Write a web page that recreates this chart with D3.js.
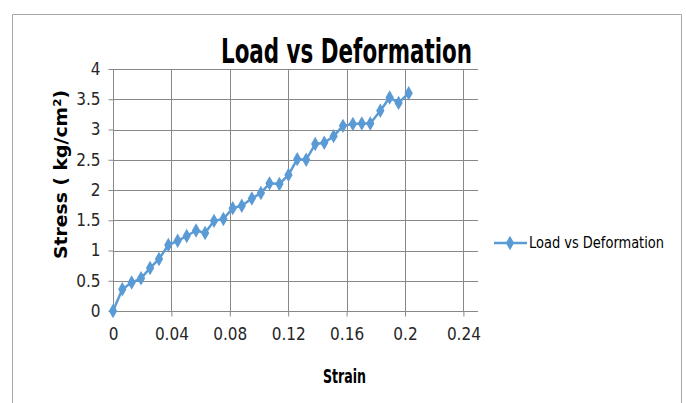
<!DOCTYPE html>
<html><head><meta charset="utf-8">
<script src="https://cdn.jsdelivr.net/npm/d3@7"></script>
<style>html,body{margin:0;padding:0;background:#fff;}svg{display:block;}</style>
</head><body>
<svg id="c" width="686" height="403"></svg>
<script>
const strain = [0, 0.0064, 0.0128, 0.0192, 0.0254, 0.0315, 0.0379, 0.0443, 0.0505, 0.0569, 0.0631, 0.0692, 0.0756, 0.0820, 0.0882, 0.0951, 0.1013, 0.1072, 0.1140, 0.1202, 0.1262, 0.1323, 0.1385, 0.1447, 0.1511, 0.1575, 0.1643, 0.1704, 0.1762, 0.1831, 0.1895, 0.1956, 0.2025];
const stress = [0, 0.36, 0.47, 0.54, 0.71, 0.86, 1.09, 1.16, 1.24, 1.33, 1.29, 1.49, 1.52, 1.70, 1.74, 1.86, 1.95, 2.11, 2.10, 2.25, 2.51, 2.50, 2.76, 2.78, 2.89, 3.06, 3.09, 3.10, 3.10, 3.31, 3.53, 3.44, 3.60];
const xTicks = [0, 0.04, 0.08, 0.12, 0.16, 0.2, 0.24];
const yTicks = [0, 0.5, 1, 1.5, 2, 2.5, 3, 3.5, 4];
const seriesName = "Load vs Deformation";
const titleText = "Load vs Deformation";
const xTitle = "Strain";
const yTitle = "Stress  ( kg/cm\u00B2)";

const svg = d3.select("#c");
const FONT = "'Liberation Sans Narrow','DejaVu Sans Condensed',sans-serif";
const L = 113, T = 69, B = 311, R = 478;
const x = d3.scaleLinear().domain([0, 0.25]).range([L, R]);
const y = d3.scaleLinear().domain([0, 4]).range([B, T]);
const grid = "#888888", blue = "#5B9BD5";

// outer border
svg.append("path").attr("d", `M12.5,403 V14.5 H681.5 V403`).attr("fill","none").attr("stroke","#a6a6a6").attr("stroke-width",1);

// grid
svg.append("g").selectAll("line").data(yTicks.filter(d=>d>0)).join("line")
  .attr("x1", L).attr("x2", R).attr("y1", d=>Math.round(y(d))+0.5).attr("y2", d=>Math.round(y(d))+0.5)
  .attr("stroke", grid).attr("stroke-width", 1);
svg.append("g").selectAll("line").data(xTicks.filter(d=>d>0)).join("line")
  .attr("y1", T).attr("y2", B).attr("x1", d=>Math.round(x(d))+0.5).attr("x2", d=>Math.round(x(d))+0.5)
  .attr("stroke", grid).attr("stroke-width", 1);

// axes
const xAxis = d3.axisBottom(x).tickValues(xTicks).tickSize(5).tickPadding(11).tickFormat(d=>String(+d.toFixed(2)));
const gx = svg.append("g").attr("transform", `translate(0,${B+0.5})`).call(xAxis);
gx.select(".domain").attr("d", `M${L},0H${R}`).attr("stroke", grid);
gx.selectAll(".tick line").attr("stroke", grid);
gx.selectAll("text").attr("font-family", FONT).attr("font-size", 17).attr("fill","#262626");

const yAxis = d3.axisLeft(y).tickValues(yTicks).tickSize(5).tickPadding(8).tickFormat(d=>String(d));
const gy = svg.append("g").attr("transform", `translate(${L+0.5},0)`).call(yAxis);
gy.select(".domain").attr("d", `M0,${T}V${B}`).attr("stroke", grid);
gy.selectAll(".tick line").attr("stroke", grid);
gy.selectAll("text").attr("font-family", FONT).attr("font-size", 17).attr("fill","#262626");

// line
const pts = strain.map((s,i)=>[s, stress[i]]);
svg.append("path").datum(pts).attr("fill","none").attr("stroke", blue).attr("stroke-width", 2.5)
  .attr("stroke-linejoin","round")
  .attr("d", d3.line().x(d=>x(d[0])).y(d=>y(d[1])));
const diamond = d3.symbol().type(d3.symbolDiamond).size(60);
svg.append("g").selectAll("path").data(pts).join("path")
  .attr("transform", d=>`translate(${x(d[0])},${y(d[1])})`)
  .attr("d", diamond).attr("fill", blue);

// title
svg.append("text").attr("x", 221).attr("y", 63).attr("font-family", FONT).attr("font-weight","bold")
  .attr("font-size", 34).attr("textLength", 251).attr("lengthAdjust","spacingAndGlyphs").attr("fill","#000").text(titleText);

// axis titles
svg.append("text").attr("x", 323).attr("y", 383).attr("font-family", FONT).attr("font-weight","bold")
  .attr("font-size", 19).attr("textLength", 43).attr("lengthAdjust","spacingAndGlyphs").attr("fill","#000").text(xTitle);
svg.append("text").attr("transform", "translate(67,259) rotate(-90)").attr("font-family", FONT).attr("font-weight","bold")
  .attr("font-size", 18).attr("textLength", 169).attr("lengthAdjust","spacingAndGlyphs").attr("fill","#000").text(yTitle);

// legend
svg.append("line").attr("x1", 494).attr("x2", 527).attr("y1", 243).attr("y2", 243).attr("stroke", blue).attr("stroke-width", 2.5);
svg.append("path").attr("transform","translate(510,243)").attr("d", diamond).attr("fill", blue);
svg.append("text").attr("x", 529).attr("y", 248).attr("font-family", FONT).attr("font-size", 16)
  .attr("textLength", 135).attr("lengthAdjust","spacingAndGlyphs").attr("fill","#000").text(seriesName);
</script>
</body></html>
